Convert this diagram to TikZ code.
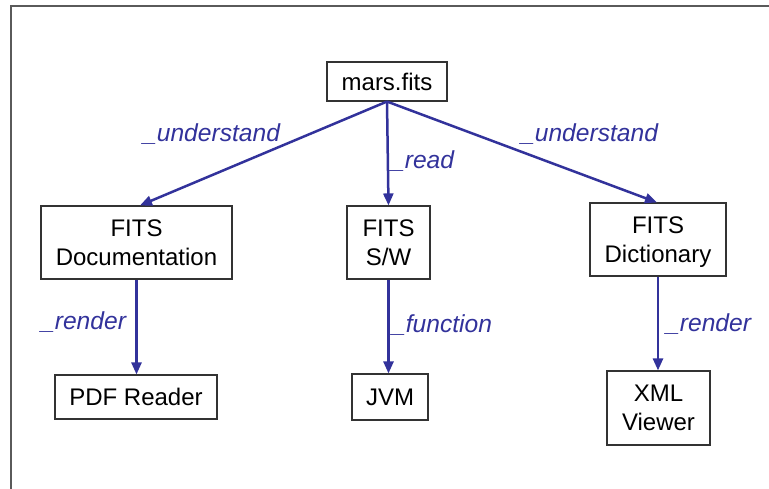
\documentclass[tikz,border=0pt]{standalone}
\usepackage{fontspec}
\setmainfont{Liberation Sans}
\usetikzlibrary{arrows.meta,shadows}
\definecolor{linkblue}{RGB}{50,50,155}
\definecolor{framegray}{RGB}{90,90,90}
\tikzset{
  box/.style={draw=black!80, line width=1.1pt, fill=white, inner sep=0pt,
    align=center, font=\fontsize{24}{29}\selectfont,
    drop shadow={shadow xshift=1pt, shadow yshift=-1pt, fill=black!45, opacity=1}},
  link/.style={draw=linkblue, line width=2.5pt,
    -{Triangle[length=12pt,width=10pt]}},
  rel/.style={text=linkblue, font=\fontsize{24.6}{29}\selectfont\itshape,
    anchor=base west, inner sep=0pt}
}
\begin{document}
\begin{tikzpicture}[x=1pt,y=1pt]
\useasboundingbox (0,0) rectangle (769,489);
% open frame running off the right and bottom edges
\draw[framegray, line width=2pt] (11,0) -- (11,483) -- (769,483);

% file and its handlers
\node[box, minimum width=120pt, minimum height=39pt] (mars) at (387,407.5) {mars.fits};
\node[box, minimum width=191pt, minimum height=73pt] (doc) at (136.5,246.5) {FITS\\Documentation};
\node[box, minimum width=83pt, minimum height=73pt] (sw) at (388.5,246.5) {FITS\\S/W};
\node[box, minimum width=136pt, minimum height=73pt, text depth=0pt] (dict) at (658,249.5) {FITS\\Dictionary};
\node[box, minimum width=162pt, minimum height=44pt] (pdf) at (136,92) {PDF Reader};
\node[box, minimum width=76pt, minimum height=46pt] (jvm) at (390,92) {JVM};
\node[box, minimum width=103pt, minimum height=74pt] (xml) at (658.5,81) {XML\\Viewer};

% relations
\draw[link] (mars.south) -- ([xshift=3.5pt]doc.north);
\draw[link] (mars.south) -- (sw.north);
\draw[link] (mars.south) -- ([xshift=-1pt]dict.north);
\draw[link] (doc.south) -- (doc.south |- pdf.north);
\draw[link] (sw.south) -- (sw.south |- jvm.north);
\draw[link] (dict.south) -- (dict.south |- xml.north);

% relation labels
\node[rel] (l1) at (143,347) {\_understand};
\node[rel] (l2) at (521,347) {\_understand};
\node[rel] (l3) at (391,320) {\_read};
\node[rel] (l4) at (41,159) {\_render};
\node[rel] (l5) at (392,156) {\_function};
\node[rel] (l6) at (666,157) {\_render};
\end{tikzpicture}
\end{document}
